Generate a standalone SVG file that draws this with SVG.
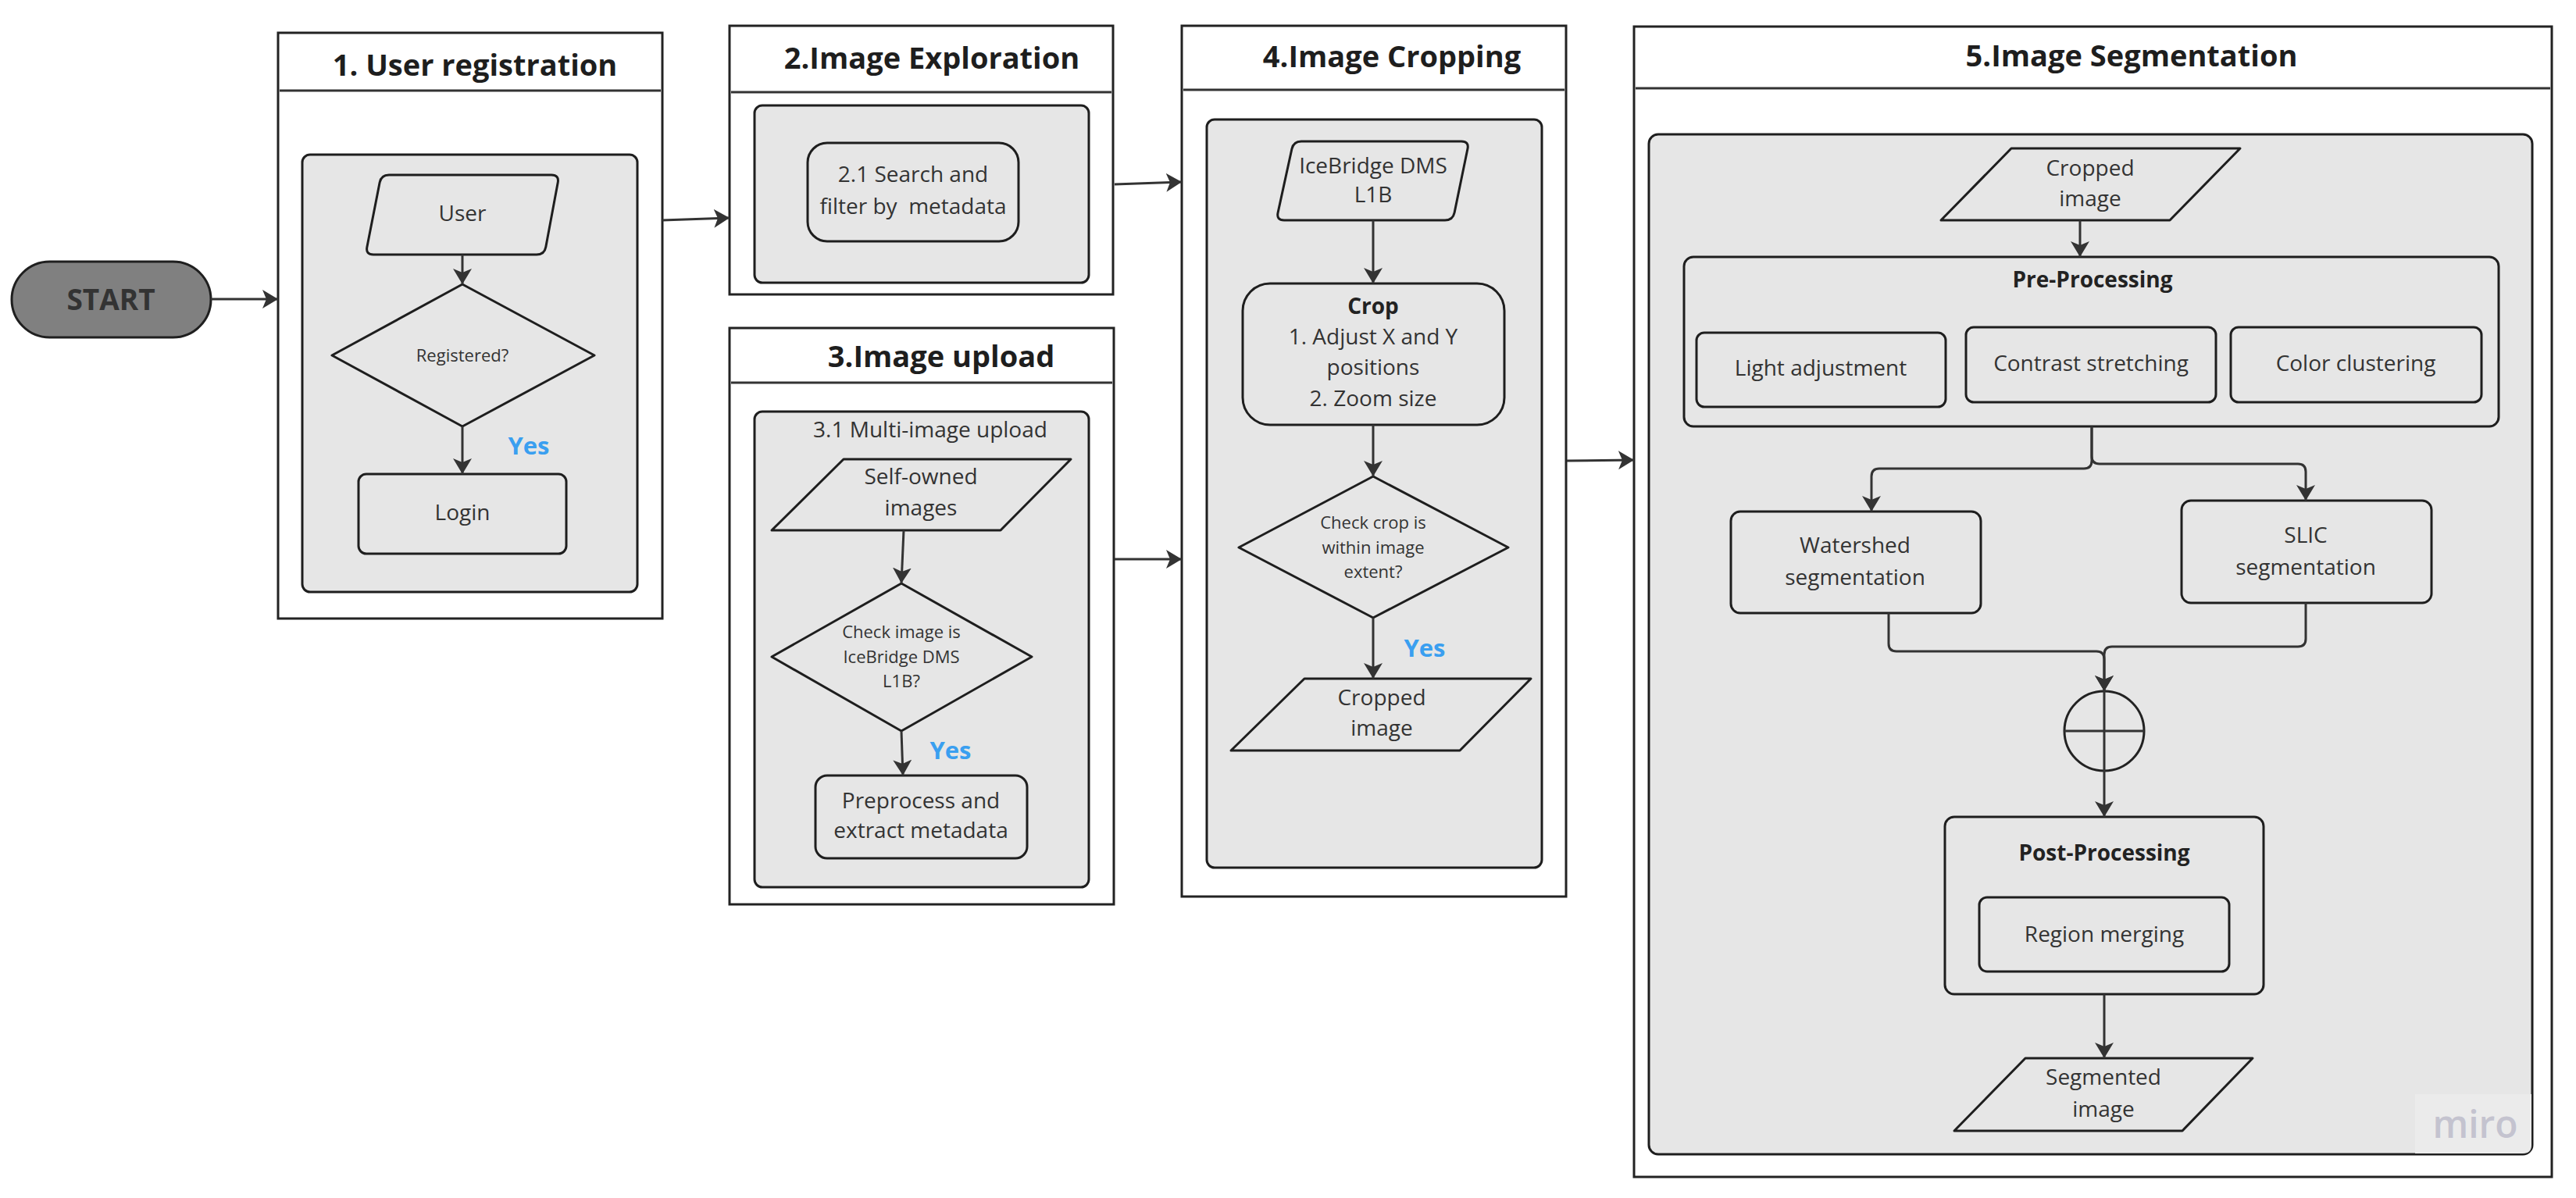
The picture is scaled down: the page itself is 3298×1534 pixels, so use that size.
<svg xmlns="http://www.w3.org/2000/svg" width="3298" height="1534" viewBox="0 0 3298 1534">
<style>
text{font-family:"Open Sans","Noto Sans","Liberation Sans",sans-serif;fill:#333;text-anchor:middle}
.t{font-size:38px;font-weight:700;fill:#1e1e1e}
.n{font-size:28px}
.b{font-size:28px;font-weight:700;fill:#222}
.d{font-size:22px}
.y{font-size:31px;font-weight:700;fill:#3a9ff0}
.frame{fill:#fff;stroke:#222;stroke-width:3}
.hl{stroke:#333;stroke-width:3;fill:none}
.panel{fill:#e6e6e6;stroke:#1e1e1e;stroke-width:3}
.sh{fill:#e6e6e6;stroke:#1e1e1e;stroke-width:3;stroke-linejoin:round}
.c{fill:none;stroke:#333;stroke-width:3;marker-end:url(#ah)}
.cl{fill:none;stroke:#333;stroke-width:3}
</style>
<defs>
<marker id="ah" viewBox="0 0 20 24" refX="20" refY="12" markerWidth="20" markerHeight="24" markerUnits="userSpaceOnUse" orient="auto">
<path d="M0,0 L20,12 L0,24 L5,12 Z" fill="#333"/>
</marker>
</defs>
<rect width="3298" height="1534" fill="#fff"/>

<g id="start">
<rect x="15" y="335" width="255" height="97" rx="48.5" fill="#808080" stroke="#1f1f1f" stroke-width="3"/>
<text x="142" y="397" style="font-size:37px;font-weight:700;fill:#333">START</text>
</g>

<g id="box1">
<rect class="frame" x="356" y="42" width="492" height="750"/>
<line class="hl" x1="358" y1="116" x2="846" y2="116"/>
<text class="t" x="608" y="97">1. User registration</text>
<rect class="panel" x="387" y="198" width="429" height="560" rx="10"/>
</g>
<g id="user">
<path class="sh" d="M498,224 L706,224 Q716,224 714.2,233.8 L698.8,316.2 Q697,326 687,326 L478,326 Q468,326 469.9,316.2 L486.1,233.8 Q488,224 498,224 Z"/>
<text class="n" x="592" y="283">User</text>
</g>
<g id="registered">
<polygon class="sh" points="592,364 761,455 592,546 425,455"/>
<text class="d" x="592" y="463">Registered?</text>
</g>
<g id="login">
<rect class="sh" x="459" y="607" width="266" height="102" rx="10"/>
<text class="n" x="592" y="666">Login</text>
</g>
<text class="y" x="677" y="582">Yes</text>

<g id="box2">
<rect class="frame" x="934" y="33" width="491" height="344"/>
<line class="hl" x1="936" y1="118" x2="1423" y2="118"/>
<text class="t" x="1193" y="88">2.Image Exploration</text>
<rect class="panel" x="966" y="135" width="428" height="227" rx="10"/>
</g>
<g id="search">
<rect class="sh" x="1034" y="183" width="270" height="126" rx="25"/>
<text class="n" x="1169" y="233">2.1 Search and</text>
<text class="n" x="1169" y="274" style="white-space:pre">filter by  metadata</text>
</g>

<g id="box3">
<rect class="frame" x="934" y="420" width="492" height="738"/>
<line class="hl" x1="936" y1="490" x2="1424" y2="490"/>
<text class="t" x="1205" y="470">3.Image upload</text>
<rect class="panel" x="966" y="527" width="428" height="609" rx="10"/>
<text class="n" x="1191" y="560">3.1 Multi-image upload</text>
</g>
<g id="selfowned">
<polygon class="sh" points="1080,588 1371,588 1281,679 988,679"/>
<text class="n" x="1179" y="620">Self-owned</text>
<text class="n" x="1179" y="660">images</text>
</g>
<g id="checkimage">
<polygon class="sh" points="1154,747 1321,841 1154,936 988,841"/>
<text class="d" x="1154" y="817">Check image is</text>
<text class="d" x="1154" y="849">IceBridge DMS</text>
<text class="d" x="1154" y="880">L1B?</text>
</g>
<g id="preprocess">
<rect class="sh" x="1044" y="993" width="271" height="106" rx="15"/>
<text class="n" x="1179" y="1035">Preprocess and</text>
<text class="n" x="1179" y="1073">extract metadata</text>
</g>
<text class="y" x="1217" y="972">Yes</text>

<g id="box4">
<rect class="frame" x="1513" y="33" width="492" height="1115"/>
<line class="hl" x1="1515" y1="115" x2="2003" y2="115"/>
<text class="t" x="1782" y="86">4.Image Cropping</text>
<rect class="panel" x="1545" y="153" width="429" height="958" rx="10"/>
</g>
<g id="icebridge">
<path class="sh" d="M1666,181 L1871,181 Q1881,181 1878.9,190.8 L1862.1,272.2 Q1860,282 1850,282 L1644,282 Q1634,282 1636.1,272.2 L1653.9,190.8 Q1656,181 1666,181 Z"/>
<text class="n" x="1758" y="222">IceBridge DMS</text>
<text class="n" x="1758" y="259">L1B</text>
</g>
<g id="crop">
<rect class="sh" x="1591" y="363" width="335" height="181" rx="35"/>
<text class="b" x="1758" y="402">Crop</text>
<text class="n" x="1758" y="441">1. Adjust X and Y</text>
<text class="n" x="1758" y="480">positions</text>
<text class="n" x="1758" y="520">2. Zoom size</text>
</g>
<g id="checkcrop">
<polygon class="sh" points="1758,610 1931,701 1758,791 1586,701"/>
<text class="d" x="1758" y="677">Check crop is</text>
<text class="d" x="1758" y="709">within image</text>
<text class="d" x="1758" y="740">extent?</text>
</g>
<g id="cropped4">
<polygon class="sh" points="1670,869 1960,869 1869,961 1576,961"/>
<text class="n" x="1769" y="903">Cropped</text>
<text class="n" x="1769" y="942">image</text>
</g>
<text class="y" x="1824" y="841">Yes</text>

<g id="box5">
<rect class="frame" x="2092" y="34" width="1175" height="1473"/>
<line class="hl" x1="2094" y1="113" x2="3265" y2="113"/>
<text class="t" x="2729" y="85">5.Image Segmentation</text>
<rect class="panel" x="2111" y="172" width="1131" height="1306" rx="12"/>
</g>
<g id="cropped5">
<polygon class="sh" points="2575,190 2868,190 2778,282 2485,282"/>
<text class="n" x="2676" y="225">Cropped</text>
<text class="n" x="2676" y="264">image</text>
</g>
<g id="preprocessing">
<rect class="sh" x="2156" y="329" width="1043" height="217" rx="12"/>
<text class="b" x="2679" y="368">Pre-Processing</text>
</g>
<g id="light">
<rect class="sh" x="2172" y="426" width="319" height="95" rx="10"/>
<text class="n" x="2331" y="481">Light adjustment</text>
</g>
<g id="contrast">
<rect class="sh" x="2517" y="419" width="320" height="96" rx="10"/>
<text class="n" x="2677" y="475">Contrast stretching</text>
</g>
<g id="color">
<rect class="sh" x="2856" y="419" width="321" height="96" rx="10"/>
<text class="n" x="3016" y="475">Color clustering</text>
</g>
<g id="watershed">
<rect class="sh" x="2216" y="655" width="320" height="130" rx="12"/>
<text class="n" x="2375" y="708">Watershed</text>
<text class="n" x="2375" y="749">segmentation</text>
</g>
<g id="slic">
<rect class="sh" x="2793" y="641" width="320" height="131" rx="12"/>
<text class="n" x="2952" y="695">SLIC</text>
<text class="n" x="2952" y="736">segmentation</text>
</g>
<g id="merge">
<circle cx="2694" cy="936" r="51" fill="#e6e6e6" stroke="#222" stroke-width="3"/>
<line class="cl" x1="2694" y1="885" x2="2694" y2="987"/>
<line class="cl" x1="2643" y1="936" x2="2745" y2="936"/>
</g>
<g id="postprocessing">
<rect class="sh" x="2490" y="1046" width="408" height="227" rx="12"/>
<text class="b" x="2694" y="1102">Post-Processing</text>
</g>
<g id="region">
<rect class="sh" x="2534" y="1149" width="320" height="95" rx="10"/>
<text class="n" x="2694" y="1206">Region merging</text>
</g>
<g id="segmented">
<polygon class="sh" points="2593,1355 2884,1355 2794,1448 2502,1448"/>
<text class="n" x="2693" y="1389">Segmented</text>
<text class="n" x="2693" y="1430">image</text>
</g>
<g id="watermark">
<path d="M3092,1401 H3241 V1466 Q3241,1477 3230,1477 H3092 Z" fill="#ebebeb"/>
<text x="3169" y="1457" style="font-size:48px;font-weight:600;fill:#c4c3cf">miro</text>
</g>

<g id="connectors">
<line class="c" x1="270" y1="383" x2="356" y2="383"/>
<line class="c" x1="848" y1="282" x2="934" y2="279"/>
<line class="c" x1="592" y1="326" x2="592" y2="364"/>
<line class="c" x1="592" y1="546" x2="592" y2="607"/>
<line class="c" x1="1427" y1="236" x2="1513" y2="233"/>
<line class="c" x1="1427" y1="716" x2="1513" y2="716"/>
<line class="c" x1="1157" y1="679" x2="1154" y2="747"/>
<line class="c" x1="1154" y1="936" x2="1156" y2="993"/>
<line class="c" x1="1758" y1="282" x2="1758" y2="363"/>
<line class="c" x1="1758" y1="544" x2="1758" y2="610"/>
<line class="c" x1="1758" y1="791" x2="1758" y2="869"/>
<line class="c" x1="2006" y1="590" x2="2092" y2="589"/>
<line class="c" x1="2663" y1="282" x2="2663" y2="329"/>
<path class="c" d="M2678,546 V590 Q2678,600 2668,600 H2406 Q2396,600 2396,610 V655"/>
<path class="c" d="M2678,546 V584 Q2678,594 2688,594 H2942 Q2952,594 2952,604 V641"/>
<path class="c" d="M2418,785 V824 Q2418,834 2428,834 H2684 Q2694,834 2694,844 V885"/>
<path class="c" d="M2952,772 V818 Q2952,828 2942,828 H2704 Q2694,828 2694,838 V885"/>
<line class="c" x1="2694" y1="987" x2="2694" y2="1046"/>
<line class="c" x1="2694" y1="1273" x2="2694" y2="1355"/>
</g>
</svg>
